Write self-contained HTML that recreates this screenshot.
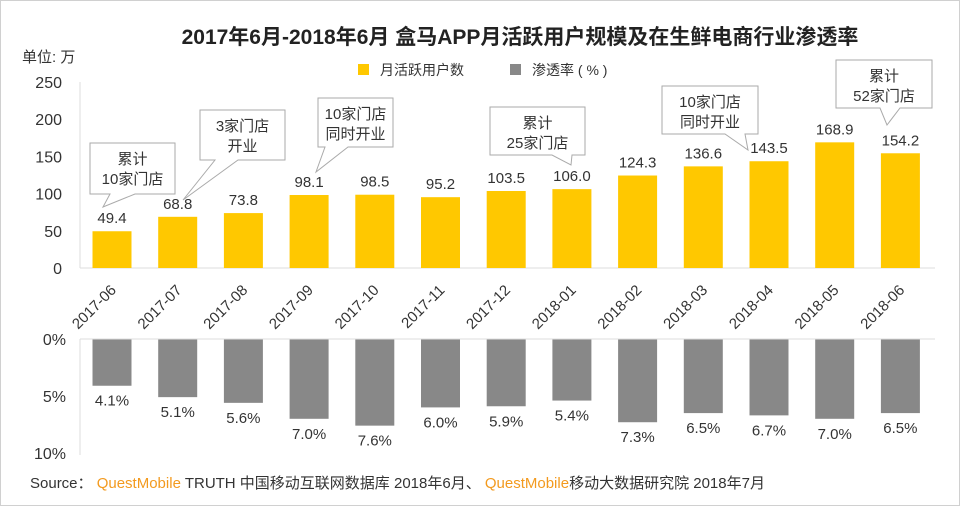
<!DOCTYPE html>
<html><head><meta charset="utf-8"><style>
body{margin:0;background:#fff}
svg{display:block;font-family:"Liberation Sans","Noto Sans CJK SC",sans-serif}
</style></head><body>
<svg id="c" width="960" height="506" viewBox="0 0 960 506">
<rect x="0.5" y="0.5" width="959" height="505" fill="#fff" stroke="#d0d0d0"/>
<text x="520" y="44" text-anchor="middle" font-size="21" font-weight="bold" fill="#222">2017年6月-2018年6月 盒马APP月活跃用户规模及在生鲜电商行业渗透率</text>
<text x="22" y="62" font-size="15" fill="#333">单位: 万</text>
<g>
<rect x="358" y="64" width="11" height="11" fill="#FFC800"/>
<text x="380" y="75" font-size="14" fill="#333">月活跃用户数</text>
<rect x="510" y="64" width="11" height="11" fill="#888"/>
<text x="532" y="75" font-size="14" fill="#333">渗透率 ( % )</text>
</g>
<g id="gtop"></g><g id="gbot"></g><g id="gnotes"></g>
<text x="30" y="488" font-size="15" fill="#333">Source： <tspan fill="#F39A1E">QuestMobile</tspan> TRUTH 中国移动互联网数据库 2018年6月、 <tspan fill="#F39A1E">QuestMobile</tspan>移动大数据研究院 2018年7月</text>
</svg>
<script>
const categories=["2017-06","2017-07","2017-08","2017-09","2017-10","2017-11","2017-12","2018-01","2018-02","2018-03","2018-04","2018-05","2018-06"];
const mauValues=[49.4,68.8,73.8,98.1,98.5,95.2,103.5,106.0,124.3,136.6,143.5,168.9,154.2];
const rateValues=[4.1,5.1,5.6,7.0,7.6,6.0,5.9,5.4,7.3,6.5,6.7,7.0,6.5];
const mauTicks=[0,50,100,150,200,250];
const rateTicks=[0,5,10];
const NS="http://www.w3.org/2000/svg";
function mk(p,t,a,txt){const e=document.createElementNS(NS,t);for(const k in a)e.setAttribute(k,a[k]);if(txt!=null)e.textContent=txt;p.appendChild(e);return e;}
const xc=i=>112+i*65.7;
const yTop=v=>268-v*0.744;
const yBot=v=>339+v*11.4;
const gTop=document.getElementById('gtop'),gBot=document.getElementById('gbot'),gNotes=document.getElementById('gnotes');
let l=mk(gTop,'line',{x1:80,y1:82,x2:80,y2:268,stroke:'#ddd'});


l=mk(gTop,'line',{x1:80,y1:268,x2:935,y2:268,stroke:'#ddd'});


mauTicks.forEach(t=>{const e=mk(gTop,'text',{x:62,y:yTop(t)+6,'text-anchor':'end','font-size':16,fill:'#333'},String(t));

});
categories.forEach((c,i)=>{
const v=mauValues[i];
const b=mk(gTop,'rect',{x:xc(i)-19.5,y:yTop(v),width:39,height:268-yTop(v),fill:'#FFC800'});


const t=mk(gTop,'text',{x:xc(i),y:yTop(v)-8,'text-anchor':'middle','font-size':15,fill:'#333'},v.toFixed(1));


const lx=xc(i)+5,ly=291;
const xl=mk(gTop,'text',{x:lx,y:ly,'text-anchor':'end','font-size':15,fill:'#333',transform:`rotate(-45 ${lx} ${ly})`},c);


const r=rateValues[i];
const bb=mk(gBot,'rect',{x:xc(i)-19.5,y:339,width:39,height:yBot(r)-339,fill:'#888'});


const rt=mk(gBot,'text',{x:xc(i),y:yBot(r)+20,'text-anchor':'middle','font-size':15,fill:'#333'},r.toFixed(1)+'%');


});
l=mk(gBot,'line',{x1:80,y1:339,x2:80,y2:455,stroke:'#ddd'});


l=mk(gBot,'line',{x1:80,y1:339,x2:935,y2:339,stroke:'#ddd'});


rateTicks.forEach(t=>{const e=mk(gBot,'text',{x:66,y:yBot(t)+6,'text-anchor':'end','font-size':16,fill:'#333'},t+'%');

});
const callouts=[
[90,143,85,51,103,207,["累计","10家门店"],110,135],
[200,110,85,50,183,200,["3家门店","开业"],215,238],
[318,98,75,49,316,172,["10家门店","同时开业"],325,348],
[490,107,95,48,571,165,["累计","25家门店"],552,572],
[662,86,96,48,748,150,["10家门店","同时开业"],725,745],
[836,60,96,48,887,125,["累计","52家门店"],880,900]];
callouts.forEach((c,k)=>{
const [x,y,w,h,tx,ty,lines,p1,p2]=c;const by=y+h;
const g=mk(gNotes,'g',{});


mk(g,'path',{d:`M${x} ${y}H${x+w}V${by}H${p2}L${tx} ${ty}L${p1} ${by}H${x}Z`,fill:'#fff',stroke:'#aaa'});
lines.forEach((s,j)=>mk(g,'text',{x:x+w/2,y:y+21+j*20,'text-anchor':'middle','font-size':15,fill:'#333'},s));
});
</script>
</body></html>
